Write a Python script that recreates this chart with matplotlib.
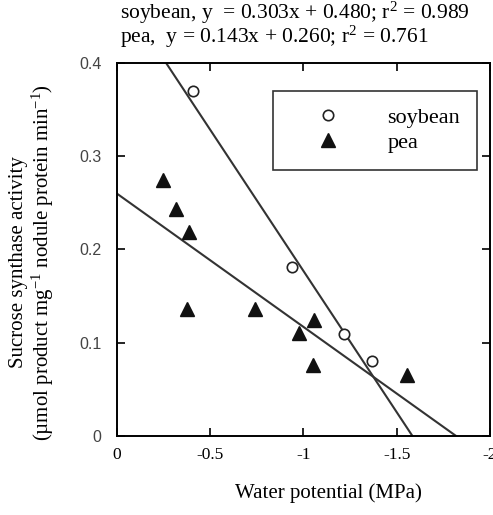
import numpy as np
import matplotlib
matplotlib.use("Agg")
import matplotlib.pyplot as plt

plt.rcParams['font.family'] = ['Liberation Serif', 'DejaVu Serif']
plt.rcParams['mathtext.fontset'] = 'custom'
plt.rcParams['mathtext.rm'] = 'Liberation Serif'
plt.rcParams['mathtext.it'] = 'Liberation Serif:italic'

# data (water potential in MPa, activity)
soy_x = [-0.406, -0.937, -1.219, -1.366]
soy_y = [0.370, 0.181, 0.109, 0.080]
pea_x = [-0.248, -0.315, -0.386, -0.377, -0.742, -0.978, -1.056, -1.053, -1.557]
pea_y = [0.274, 0.243, 0.219, 0.136, 0.136, 0.110, 0.124, 0.076, 0.065]

# regression fits from the caption
soy_fit = (0.303, 0.480)
pea_fit = (0.143, 0.260)

xticks = [0, -0.5, -1, -1.5, -2]
xticklabels = ["0", "-0.5", "-1", "-1.5", "-2"]
yticks = [0, 0.1, 0.2, 0.3, 0.4]
yticklabels = ["0", "0.1", "0.2", "0.3", "0.4"]

fig = plt.figure(figsize=(4.93, 5.15), dpi=100)
ax = fig.add_axes([0.237, 0.1534, 0.757, 0.7243])

line_col = '#333333'
# soybean fit: clip to y in [0, 0.4]
a, b = soy_fit
xs = np.array([(0.4 - b) / a, -b / a])
ax.plot(xs, a * xs + b, color=line_col, lw=1.5, zorder=2)
# pea fit: from 0 to zero crossing
a, b = pea_fit
xp = np.array([0, -b / a])
ax.plot(xp, a * xp + b, color=line_col, lw=1.5, zorder=2)

ax.plot(soy_x, soy_y, 'o', ms=7.5, mfc='white', mec='#222222', mew=1.2,
        linestyle='none', label='soybean', zorder=3)
ax.plot(pea_x, pea_y, '^', ms=9.5, color='#111111',
        linestyle='none', label='pea', zorder=3)

ax.set_xlim(0, -2)
ax.set_ylim(0, 0.4)
ax.set_xticks(xticks)
ax.set_xticklabels(xticklabels, fontsize=12.5)
ax.set_yticks(yticks)
ax.set_yticklabels(yticklabels, fontsize=11.5, family='Liberation Sans', color='#444444')
ax.tick_params(direction='in', top=True, right=True, length=6, width=1.2)
ax.tick_params(axis='x', pad=8)
ax.tick_params(axis='y', pad=11)
for s in ax.spines.values():
    s.set_linewidth(1.4)

ax.set_xlabel("Water potential (MPa)", fontsize=15)
ax.xaxis.set_label_coords(0.566, -0.128)
ax.set_ylabel("Sucrose synthase activity\n(µmol product mg$^{-1}$ nodule protein min$^{-1}$)",
              fontsize=15, linespacing=1.1)
ax.yaxis.set_label_coords(-0.162, 0.466)

leg = ax.legend(loc='upper right', bbox_to_anchor=(0.965, 0.925), borderaxespad=0,
                fontsize=16, frameon=True, fancybox=False, edgecolor='black',
                handletextpad=1.0, borderpad=0.75, labelspacing=0.2, handlelength=3.4)
leg.get_frame().set_linewidth(1.2)

fig.text(0.243, 0.975, "soybean, y  = 0.303x + 0.480; r$^2$ = 0.989", fontsize=15.5, va='center')
fig.text(0.243, 0.929, "pea,  y = 0.143x + 0.260; r$^2$ = 0.761", fontsize=15.5, va='center')

fig.savefig("out.png", dpi=100)
